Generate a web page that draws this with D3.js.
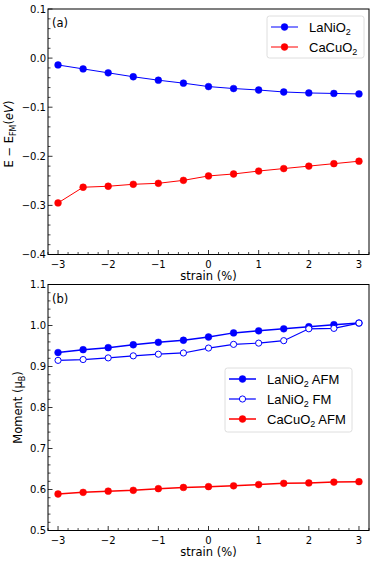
<!DOCTYPE html>
<html lang="en">
<head>
<meta charset="UTF-8">
<title>strain</title>
<style>
    body { margin: 0; background: #fff; }
    svg { display: block; font-family: "DejaVu Sans", sans-serif; }
</style>
</head>
<body>
<script src="https://cdnjs.cloudflare.com/ajax/libs/d3/7.8.5/d3.min.js"></script>
<script>
    const strain = [-3, -2.5, -2, -1.5, -1, -0.5, 0, 0.5, 1, 1.5, 2, 2.5, 3];

    // panel (a): E - E_FM
    const eLaNiO2 = [-0.014, -0.022, -0.030, -0.038, -0.045, -0.051, -0.058, -0.062, -0.065, -0.069, -0.071, -0.072, -0.073];
    const eCaCuO2 = [-0.295, -0.263, -0.261, -0.257, -0.255, -0.249, -0.240, -0.236, -0.230, -0.225, -0.220, -0.215, -0.210];

    // panel (b): moment
    const mLaNiO2AFM = [0.934, 0.941, 0.946, 0.953, 0.959, 0.964, 0.972, 0.982, 0.987, 0.992, 0.997, 1.002, 1.006];
    const mLaNiO2FM = [0.915, 0.917, 0.921, 0.926, 0.930, 0.933, 0.945, 0.954, 0.957, 0.963, 0.992, 0.993, 1.006];
    const mCaCuO2AFM = [0.589, 0.593, 0.596, 0.598, 0.602, 0.605, 0.607, 0.609, 0.612, 0.615, 0.616, 0.618, 0.619];

    const xTicks = [-3, -2, -1, 0, 1, 2, 3];
    const yTicksA = [0.1, 0.0, -0.1, -0.2, -0.3, -0.4];
    const yTicksB = [0.5, 0.6, 0.7, 0.8, 0.9, 1.0, 1.1];

    const width = 374, height = 561;
    const svg = d3.select("body").append("svg")
        .attr("width", width)
        .attr("height", height);

    const left = 48, right = 369;
    const tickFont = 10, labelFont = 11.5, legendFont = 13;
    const x = d3.scaleLinear().domain([-3.2, 3.2]).range([left, right]);

    function panel(top, bottom, yDomain, yTicks, minorStep, fmt, series, legend, tag) {
        const y = d3.scaleLinear().domain(yDomain).range([bottom, top]);
        const g = svg.append("g");

        // frame
        g.append("rect")
            .attr("x", left).attr("y", top)
            .attr("width", right - left).attr("height", bottom - top)
            .attr("fill", "none").attr("stroke", "#000").attr("stroke-width", 1);

        // x ticks (inward)
        const xMinor = d3.range(-3.2, 3.21, 0.2).filter(v => Math.abs(v - Math.round(v)) > 0.01);
        g.selectAll(".xminor").data(xMinor).join("line")
            .attr("x1", d => x(d)).attr("x2", d => x(d))
            .attr("y1", bottom).attr("y2", bottom - 2.5)
            .attr("stroke", "#000").attr("stroke-width", 0.7);
        g.selectAll(".xmajor").data(xTicks).join("line")
            .attr("x1", d => x(d)).attr("x2", d => x(d))
            .attr("y1", bottom).attr("y2", bottom - 4.5)
            .attr("stroke", "#000").attr("stroke-width", 0.8);
        g.selectAll(".xlab").data(xTicks).join("text")
            .attr("x", d => x(d)).attr("y", bottom + 13)
            .attr("text-anchor", "middle").attr("font-size", tickFont)
            .text(d => d < 0 ? "\u2212" + Math.abs(d) : d);

        // y ticks
        const [y0, y1] = yDomain;
        const yMinor = d3.range(0, Math.round((y1 - y0) / minorStep) + 1)
            .map(i => y0 + i * minorStep)
            .filter(v => Math.abs(v / 0.1 - Math.round(v / 0.1)) > 0.01);
        g.selectAll(".yminor").data(yMinor).join("line")
            .attr("x1", left).attr("x2", left + 2.5)
            .attr("y1", d => y(d)).attr("y2", d => y(d))
            .attr("stroke", "#000").attr("stroke-width", 0.7);
        g.selectAll(".ymajor").data(yTicks).join("line")
            .attr("x1", left).attr("x2", left + 4.5)
            .attr("y1", d => y(d)).attr("y2", d => y(d))
            .attr("stroke", "#000").attr("stroke-width", 0.8);
        g.selectAll(".ylab").data(yTicks).join("text")
            .attr("x", left - 2).attr("y", d => y(d) + 3.6)
            .attr("text-anchor", "end").attr("font-size", tickFont)
            .text(d => fmt(d).replace("-", "\u2212"));

        // x label
        g.append("text")
            .attr("x", (left + right) / 2).attr("y", bottom + 25.5)
            .attr("text-anchor", "middle").attr("font-size", labelFont)
            .text("strain (%)");

        // tag
        g.append("text")
            .attr("x", left + 4).attr("y", top + 18)
            .attr("font-size", labelFont)
            .text(tag);

        // series
        const line = d3.line().x((d, i) => x(strain[i])).y(d => y(d));
        series.forEach(s => {
            g.append("path")
                .datum(s.values)
                .attr("d", line)
                .attr("fill", "none")
                .attr("stroke", s.color)
                .attr("stroke-width", s.lw);
            g.selectAll(null).data(s.values).join("circle")
                .attr("cx", (d, i) => x(strain[i]))
                .attr("cy", d => y(d))
                .attr("r", s.open ? 3.1 : 3.4)
                .attr("fill", s.open ? "#fff" : s.color)
                .attr("stroke", s.color)
                .attr("stroke-width", s.open ? 1 : 0.5);
        });

        // legend
        const lg = g.append("g");
        lg.append("rect")
            .attr("x", legend.x).attr("y", legend.y)
            .attr("width", legend.w).attr("height", legend.h)
            .attr("rx", 2.5)
            .attr("fill", "#fff").attr("fill-opacity", 0.8)
            .attr("stroke", "#d6d6d6").attr("stroke-width", 0.8);
        series.forEach((s, i) => {
            const ly = legend.y + legend.first + i * legend.gap;
            lg.append("line")
                .attr("x1", legend.x + 4).attr("x2", legend.x + 31)
                .attr("y1", ly).attr("y2", ly)
                .attr("stroke", s.color).attr("stroke-width", s.lw);
            lg.append("circle")
                .attr("cx", legend.x + 17.5).attr("cy", ly)
                .attr("r", s.open ? 3.1 : 3.4)
                .attr("fill", s.open ? "#fff" : s.color)
                .attr("stroke", s.color)
                .attr("stroke-width", s.open ? 1 : 0.5);
            const t = lg.append("text")
                .attr("x", legend.x + 42).attr("y", ly + 4.5)
                .attr("font-family", "'Liberation Sans', Arial, sans-serif")
                .attr("font-size", legendFont);
            t.append("tspan").text(s.name[0]);
            t.append("tspan").attr("font-size", 9).attr("dy", 3).text("2");
            t.append("tspan").attr("dy", -3).text(s.name[1]);
        });

        return g;
    }

    const gA = panel(9, 254.5, [-0.4, 0.1], yTicksA, 0.02, d3.format(".1f"), [
        {name: ["LaNiO", ""], values: eLaNiO2, color: "#0000ff", lw: 1},
        {name: ["CaCuO", ""], values: eCaCuO2, color: "#ff0000", lw: 1}
    ], {x: 267, y: 16, w: 97, h: 42, first: 11, gap: 20}, "(a)");

    const gB = panel(284.5, 530.5, [0.5, 1.1], yTicksB, 0.02, d3.format(".1f"), [
        {name: ["LaNiO", " AFM"], values: mLaNiO2AFM, color: "#0000ff", lw: 1.5},
        {name: ["LaNiO", " FM"], values: mLaNiO2FM, color: "#0000ff", lw: 1.2, open: true},
        {name: ["CaCuO", " AFM"], values: mCaCuO2AFM, color: "#ff0000", lw: 1.5}
    ], {x: 225, y: 368, w: 127, h: 64, first: 11, gap: 20}, "(b)");

    // y labels
    const la = svg.append("text")
        .attr("transform", "translate(13,134) rotate(-90)")
        .attr("text-anchor", "middle").attr("font-size", labelFont);
    la.append("tspan").text("E \u2212 E");
    la.append("tspan").attr("font-size", 8).attr("dy", 3).text("FM");
    la.append("tspan").attr("dy", -3).text("(");
    la.append("tspan").attr("font-style", "italic").text("eV");
    la.append("tspan").text(")");

    const lb = svg.append("text")
        .attr("transform", "translate(22,407.5) rotate(-90)")
        .attr("text-anchor", "middle").attr("font-size", labelFont);
    lb.append("tspan").text("Moment (\u03bc");
    lb.append("tspan").attr("font-size", 8).attr("dy", 3).text("B");
    lb.append("tspan").attr("dy", -3).text(")");
</script>
</body>
</html>
